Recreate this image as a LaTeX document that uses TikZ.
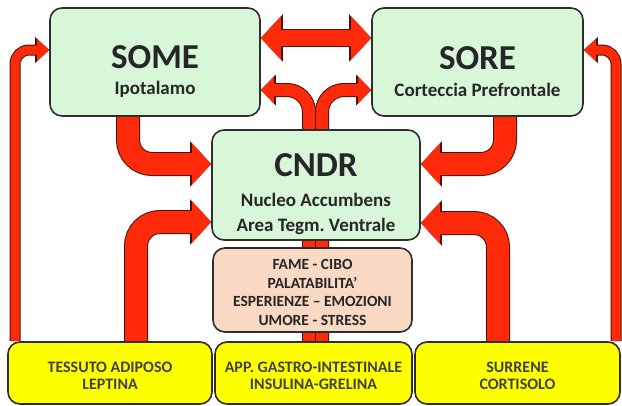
\documentclass[tikz,border=0pt]{standalone}
\usepackage{fontspec}
\setmainfont{Carlito}
\usepackage{tikz}
\usetikzlibrary{arrows.meta, backgrounds}

\definecolor{brainfill}{HTML}{D8F6D8}
\definecolor{moodfill}{HTML}{F9D8C4}
\definecolor{organfill}{HTML}{FFFF00}
\definecolor{arrowred}{HTML}{FF2A0A}
\definecolor{arrowline}{HTML}{4A1208}
\definecolor{boxline}{HTML}{2E2E2E}

\newcommand{\areaname}[1]{{\fontsize{35}{38}\selectfont #1}}
\newcommand{\sitename}{\fontsize{19}{25}\selectfont}
\newcommand{\toppad}[1]{\rule{0pt}{#1}}

\begin{document}
\begin{tikzpicture}[
    x=1pt, y=-1pt,
    box/.style={draw=boxline, line width=1.6pt, rounded corners=12pt, align=center, inner sep=0pt, text=black!85, font=\bfseries},
    brain/.style={box, fill=brainfill},
    mood/.style={box, fill=moodfill, font=\fontsize{15.5}{18.5}\selectfont\bfseries},
    organ/.style={box, fill=organfill, minimum height=62pt, font=\fontsize{16}{16.5}\selectfont\bfseries, text=black!75},
    bigarrow/.style={draw=arrowred, line width=22pt, rounded corners=24pt,
        -{Triangle[length=19pt, width=40pt]},
        preaction={draw=arrowline, line width=24pt, -{Triangle[length=21pt, width=44pt]}}},
    twoway/.style={draw=arrowred, line width=16pt,
        {Triangle[length=20pt, width=42pt]}-{Triangle[length=20pt, width=42pt]},
        preaction={draw=arrowline, line width=18pt, {Triangle[length=22pt, width=46pt]}-{Triangle[length=22pt, width=46pt]}}},
    midarrow/.style={draw=arrowred, line width=12pt, rounded corners=22pt,
        -{Triangle[length=13pt, width=26pt]},
        preaction={draw=arrowline, line width=14pt, -{Triangle[length=15pt, width=30pt]}}},
    thinarrow/.style={draw=arrowred, line width=9pt, rounded corners=14pt,
        -{Triangle[length=12pt, width=21pt]},
        preaction={draw=arrowline, line width=11pt, -{Triangle[length=14pt, width=25pt]}}}
]
\useasboundingbox (0,0) rectangle (622,405);

% Nodes
\node[brain, minimum width=210pt, minimum height=108pt] (some) at (155,62)
    {\toppad{42pt}\areaname{SOME}\\[12pt]\sitename Ipotalamo};
\node[brain, minimum width=211pt, minimum height=108pt] (sore) at (477.5,62)
    {\toppad{42pt}\areaname{SORE}\\[12pt]\sitename Corteccia Prefrontale};
\node[brain, minimum width=208pt, minimum height=110pt] (cndr) at (316,185)
    {\toppad{41pt}\areaname{CNDR}\\[16pt]\sitename Nucleo Accumbens\\[10pt]\sitename Area Tegm.\ Ventrale};
\node[mood, minimum width=199pt, minimum height=84pt] (stimuli) at (312.5,290)
    {\toppad{15pt}FAME - CIBO\\PALATABILITA'\\ESPERIENZE -- EMOZIONI\\UMORE - STRESS};
\node[organ, minimum width=204pt] (adipose) at (110,373) {\toppad{16pt}TESSUTO ADIPOSO\\LEPTINA};
\node[organ, minimum width=197pt] (gut) at (313.5,373) {\toppad{16pt}APP. GASTRO-INTESTINALE\\INSULINA-GRELINA};
\node[organ, minimum width=205pt] (adrenal) at (517.5,373) {\toppad{16pt}SURRENE\\CORTISOLO};

% Arrows
\begin{scope}[on background layer]
\draw[midarrow] ([xshift=-4.5pt]gut.north) |- ([yshift=-28pt]some.east);
\draw[midarrow] ([xshift=8.5pt]gut.north) |- ([yshift=-28pt]sore.west);
\end{scope}
\draw[twoway] ([yshift=24pt]some.east) -- ([yshift=24pt]sore.west);
\draw[bigarrow] ([xshift=-27pt]some.south) |- ([yshift=21pt]cndr.west);
\draw[bigarrow] ([xshift=27.5pt]sore.south) |- ([yshift=21pt]cndr.east);
\draw[bigarrow] ([xshift=26pt]adipose.north) |- ([yshift=-37pt]cndr.west);
\draw[bigarrow] ([xshift=-19.5pt]adrenal.north) |- ([yshift=-38pt]cndr.east);
\draw[thinarrow] ([xshift=-95pt]adipose.north) |- ([yshift=12pt]some.west);
\draw[thinarrow] ([xshift=98.5pt]adrenal.north) |- ([yshift=12pt]sore.east);

\end{tikzpicture}
\end{document}
